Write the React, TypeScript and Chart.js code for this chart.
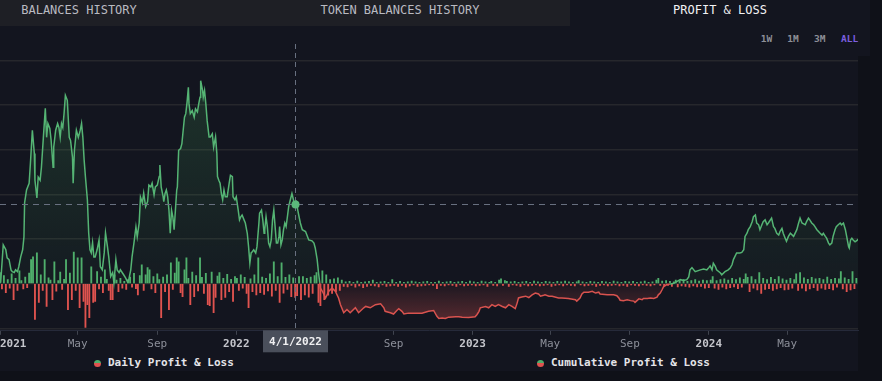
import React, { useEffect, useRef } from "react";
import { Chart, registerables } from "chart.js";

Chart.register(...registerables);

// ---------- text ----------
const tabLabels = ["BALANCES HISTORY", "TOKEN BALANCES HISTORY", "PROFIT & LOSS"];
const rangeButtons = ["1W", "1M", "3M", "ALL"];
const legendLabels = ["Daily Profit & Loss", "Cumulative Profit & Loss"];
const monthNames = ["Jan", "Feb", "Mar", "Apr", "May", "Jun", "Jul", "Aug", "Sep", "Oct", "Nov", "Dec"];

// ---------- axis ----------
const START_UTC = Date.UTC(2021, 0, 1); // day 0
const DAY_MS = 86400000;
const xTickMonths: [number, number][] = [
  [2021, 0], [2021, 4], [2021, 8], [2022, 0], [2022, 4], [2022, 8],
  [2023, 0], [2023, 4], [2023, 8], [2024, 0], [2024, 4],
];
const xMaxDay = 1325.5;
const yMin = -10.56;
const yMax = 53.72;
const yGridValues = [-10, 0, 10, 20, 30, 40, 50];
const crosshairDay = 455; // 4/1/2022

// ---------- cumulative profit & loss (day since 2021-01-01, value in k) ----------
const cumPnl2021: [number, number][] = [
  [1, 0.2], [5, 8.7], [9, 7.6], [11, 5.8], [14, 5.4], [17, 3.1], [19, 2.7], [22, 2.5], [24, 3.1], [27, 2.7],
  [29, 3.8], [32, 6.0], [35, 7.6], [37, 10.5], [38, 18.1], [41, 21.0], [45, 22.5], [47, 27.0], [50, 34.4], [53, 29.2],
  [54, 23.2], [57, 19.2], [59, 23.9], [62, 23.2], [64, 26.1], [67, 32.8], [70, 39.3], [72, 32.8], [74, 35.9], [77, 34.8],
  [79, 32.1], [82, 26.1], [83, 30.6], [86, 34.4], [89, 35.9], [91, 35.0], [93, 32.8], [95, 35.9], [97, 35.0], [99, 38.2],
  [101, 42.2], [104, 41.1], [107, 32.8], [109, 32.1], [112, 28.3], [113, 22.5], [115, 29.9], [118, 34.4], [121, 32.8], [124, 34.4],
  [126, 35.9], [128, 32.8], [130, 27.7], [132, 23.9], [135, 18.8], [137, 11.4], [139, 7.6], [141, 6.9], [143, 9.2], [145, 6.0],
  [147, 6.0], [150, 7.6], [153, 9.8], [155, 3.8], [158, 3.1], [161, 6.9], [163, 11.4], [166, 8.3], [168, 6.0], [171, 1.6],
  [174, 2.5], [176, 0.2], [179, 5.4], [181, 3.1], [184, 2.5], [186, 3.1], [191, 2.0], [194, 1.3], [197, 0.4], [199, 0.9],
  [202, 3.1], [204, 6.0], [207, 9.2], [210, 12.7], [212, 10.5], [215, 13.6], [217, 19.4], [220, 18.1], [222, 20.3], [225, 17.3],
  [228, 18.4], [230, 22.1], [233, 21.7], [235, 22.5], [238, 19.9], [240, 21.7], [243, 22.1], [246, 24.0], [247, 26.6], [249, 21.7],
  [252, 19.5], [253, 18.4], [255, 20.2], [257, 21.0], [259, 19.5], [261, 16.5], [263, 11.3], [265, 16.5], [267, 15.0], [269, 12.1],
  [271, 16.5], [273, 21.0], [274, 21.7], [276, 29.9], [279, 30.3], [281, 31.4], [283, 34.4], [285, 37.3], [287, 38.1], [289, 40.7],
  [291, 44.0], [292, 40.3], [294, 38.1], [297, 38.8], [300, 37.3], [302, 39.2], [305, 38.5], [307, 40.3], [309, 41.8], [310, 45.5],
  [313, 43.3], [314, 41.8], [316, 43.3], [318, 40.3], [320, 36.6], [323, 32.9], [325, 32.9], [328, 33.6], [330, 30.6], [333, 32.9],
  [335, 29.2], [336, 24.0], [338, 23.2], [340, 22.5], [342, 20.2], [344, 18.8], [346, 21.0], [348, 19.5], [351, 19.5], [354, 22.5],
  [356, 24.3], [359, 24.0], [360, 19.5], [363, 18.8],
];
const cumPnl2022: [number, number][] = [
  [365, 19.5], [368, 16.5], [370, 14.3], [372, 15.0], [374, 15.4], [377, 14.3], [379, 13.6], [382, 11.3], [384, 8.3], [386, 4.6],
  [388, 6.9], [390, 7.2], [392, 7.6], [395, 6.9], [397, 8.3], [400, 13.6], [401, 15.8], [404, 16.5], [406, 14.3], [408, 11.3],
  [409, 12.1], [411, 15.0], [413, 12.8], [415, 9.1], [417, 8.3], [419, 9.8], [421, 14.3], [423, 16.5], [425, 12.8], [427, 9.1],
  [429, 9.1], [431, 10.6], [432, 12.8], [434, 8.7], [436, 9.8], [438, 12.1], [440, 13.6], [442, 12.8], [444, 15.0], [446, 17.3],
  [449, 19.1], [451, 20.2], [455, 17.8], [458, 18.4], [460, 16.5], [462, 15.0], [464, 13.6], [467, 12.1], [472, 11.7], [477, 9.8],
  [482, 9.6], [485, 9.1], [487, 8.0], [490, 5.4], [492, 2.5], [494, 0.2], [495, -1.0], [498, -1.7], [503, -3.2], [508, -1.7],
  [513, -1.0], [518, -1.7], [523, -3.2], [526, -4.7], [529, -5.8], [531, -6.5], [536, -5.8], [541, -6.5], [549, -5.4], [554, -6.5],
  [562, -5.4], [565, -5.1], [572, -5.4], [580, -4.7], [588, -4.5], [593, -5.4], [595, -6.2], [603, -6.5], [608, -6.8], [613, -6.0],
  [616, -5.6], [621, -6.2], [624, -6.8], [631, -6.6], [642, -6.6], [652, -6.6], [662, -6.2], [670, -6.0], [675, -7.3], [678, -7.8],
  [683, -7.7], [688, -7.8], [693, -7.5], [704, -7.4], [709, -7.4], [714, -7.5], [724, -7.6],
];
const cumPnl2023: [number, number][] = [
  [734, -7.4], [737, -6.9], [740, -6.2], [742, -5.4], [750, -5.1], [755, -5.4], [760, -4.7], [765, -5.1], [770, -4.7], [776, -5.1],
  [781, -5.4], [786, -4.7], [791, -5.1], [796, -5.6], [799, -4.3], [801, -3.2], [806, -3.0], [812, -2.8], [817, -3.1], [822, -2.5],
  [827, -2.1], [832, -2.3], [835, -2.8], [840, -2.6], [842, -2.5], [848, -2.8], [853, -2.8], [863, -3.2], [868, -3.2], [878, -3.3],
  [889, -3.6], [891, -3.9], [896, -3.2], [899, -2.3], [902, -1.9], [909, -1.9], [915, -1.7], [920, -2.1], [925, -1.9], [927, -2.3],
  [938, -2.5], [948, -2.5], [953, -2.7], [956, -3.2], [958, -3.7], [963, -3.8], [969, -3.6], [974, -3.8], [979, -3.9], [981, -4.2],
  [984, -3.8], [987, -3.4], [992, -3.6], [994, -3.3], [1000, -3.3], [1005, -3.2], [1010, -3.3], [1015, -3.0], [1017, -2.5], [1020, -2.1],
  [1023, -1.3], [1025, -0.7], [1030, -0.2], [1035, -0.1], [1041, 0.1], [1046, 0.5], [1051, 0.9], [1056, 0.7], [1061, 0.9], [1064, 1.5],
  [1066, 3.1], [1069, 3.6], [1074, 2.7], [1082, 3.1], [1087, 3.3], [1092, 3.1],
];
const cumPnl2024: [number, number][] = [
  [1095, 3.6], [1097, 4.0], [1100, 3.1], [1102, 4.6], [1105, 3.9], [1107, 3.1], [1113, 2.4], [1115, 2.0], [1120, 2.7], [1125, 3.1],
  [1128, 3.5], [1131, 4.3], [1133, 5.4], [1138, 6.9], [1143, 6.9], [1146, 7.0], [1149, 7.6], [1151, 10.6], [1154, 11.3], [1156, 12.1],
  [1159, 12.8], [1162, 13.9], [1164, 15.0], [1167, 15.4], [1169, 13.6], [1172, 13.2], [1174, 12.1], [1177, 13.2], [1179, 13.9], [1182, 14.3],
  [1185, 13.2], [1187, 13.6], [1192, 14.7], [1195, 12.8], [1197, 12.4], [1200, 11.3], [1203, 10.9], [1205, 11.7], [1208, 12.4], [1210, 11.3],
  [1213, 10.2], [1215, 9.5], [1218, 10.6], [1221, 11.3], [1226, 10.6], [1231, 12.1], [1233, 13.2], [1236, 14.7], [1239, 13.6], [1244, 13.2],
  [1246, 13.9], [1249, 14.7], [1251, 14.3], [1254, 13.6], [1257, 13.2], [1259, 12.8], [1262, 12.1], [1267, 11.3], [1270, 10.9], [1272, 11.3],
  [1275, 10.6], [1277, 10.2], [1280, 9.1], [1282, 8.7], [1285, 9.1], [1287, 10.6], [1290, 12.1], [1292, 12.8], [1295, 13.2], [1298, 13.6],
  [1300, 13.2], [1303, 13.6], [1306, 12.1], [1308, 10.6], [1311, 8.3], [1312, 8.0], [1314, 9.8], [1316, 10.2], [1318, 9.8], [1321, 9.4],
  [1324, 9.7], [1326, 10.0],
];

// ---------- daily profit & loss (one bar per 3 days from 2021-01-01, value in k) ----------
const DAILY_STEP = 3;
const dailyPnl2021 = [
  2.5, -1.2, 1.8, -2.0, 0.9, -1.0, 2.2, -3.6, 1.2, -1.5, 2.9, 0.7, -1.2, 1.5, -0.9, 2.4, 5.4, 6.0, -8.0, 6.9,
  -4.2, 2.0, -1.5, 5.4, -5.1, 1.3, 0.8, -3.6, 4.9, -1.7, 0.7, 2.6, -1.3, 1.0, 5.4, -5.8, 2.4, -3.6, 7.1, -1.5,
  5.8, -5.4, 5.8, -4.0, -9.8, -4.7, -7.6, 3.8, -4.2, -4.0, 2.7, -1.2, 1.5, -2.0, 3.1, 1.0, -1.5, -3.6, -3.6, 2.0,
  0.8, -1.8, 1.2, -1.0, 0.5, -1.3, 0.9, 1.5, -0.8, 2.3, -1.1, -2.5, 1.8, 4.2, -1.5, 2.0, 3.6, 3.1, -1.2, 1.6,
  -2.0, 2.2, 0.9, -7.6, 1.5, -1.8, 2.0, -5.8, 4.7, -1.3, 2.4, 5.8, 4.9, -2.0, -2.9, 3.1, 5.8, 1.2, -4.7, 2.6,
  -2.9, 1.8, -1.6, 5.8, 1.4, -2.2, 2.3, -4.7, -4.9, 2.6, -6.5, -3.1, 1.7, 2.5, -3.6, 1.2, -3.1, 2.1, -1.8, 1.0,
  -4.0, 1.6,
];
const dailyPnl2022 = [
  1.2, -1.5, 2.0, -1.0, 1.4, -2.2, -5.4, 1.1, -1.8, 2.0, -2.5, 5.8, -2.0, 1.5, -2.4, 1.2, -1.6, 2.2, -2.8, 4.9,
  -1.5, 1.6, -4.2, 4.7, -2.1, 1.4, -1.3, 2.0, -2.9, 1.3, -3.1, -2.7, 1.6, -3.6, 1.6, -2.5, 1.2, -3.0, 1.5, -2.2,
  1.8, 2.5, -4.2, -4.9, 2.9, -3.6, 2.0, -2.6, 0.9, -2.2, 1.1, -1.8, 1.3, -1.5, 0.8, -0.6, 0.4, -0.7, 0.5, -0.4,
  0.3, -0.8, 0.6, -0.5, 0.3, -0.9, 0.4, -0.6, 0.5, -0.4, 0.8, -0.5, 0.3, -0.7, 0.4, -0.3, 0.5, -0.6, 0.3, -0.5,
  0.9, -0.4, 0.3, -0.6, 0.5, -0.4, 0.3, -0.8, 0.4, -0.5, 0.6, -0.3, 0.4, -0.6, 0.3, -0.5, 0.4, -0.4, 0.5, -0.3,
  0.3, -0.4, 0.3, -1.1, 0.6, -0.4, 0.3, -0.5, 0.4, -0.3, 0.5, -0.4, 0.3, -0.6, 0.4, -0.3, 0.5, -0.5, 0.3, -0.4,
  0.6, -0.3,
];
const dailyPnl2023 = [
  0.4, -0.5, 0.3, -0.4, 0.6, -0.3, 0.4, -0.6, 0.3, 0.5, -0.4, 0.3, -0.5, 0.8, 1.1, -0.4, 0.7, 0.5, -0.6, 0.4,
  -0.3, 0.5, -0.4, 0.3, -0.6, 0.4, -0.3, 0.5, -0.5, 0.3, -0.4, 0.6, -0.3, 0.4, -0.5, 0.3, -0.4, 0.5, -0.3, 0.4,
  -0.6, 0.3, -0.4, 0.5, -0.3, 0.4, -0.5, 0.6, -0.3, 0.4, -0.4, 0.3, -0.5, 0.4, 0.7, -0.3, 0.4, -0.5, 0.3, -0.4,
  0.5, -0.3, 0.4, -0.6, 0.3, -0.4, 0.5, -0.3, 0.4, -0.5, 0.3, -0.4, 0.6, -0.3, 0.4, -0.5, 0.3, -0.4, 0.5, -0.6,
  0.4, -0.3, 0.5, -0.4, 0.3, -0.5, 0.4, -0.3, 0.6, -0.4, 0.3, -0.5, 0.4, -0.3, 0.8, 1.2, -0.4, 0.6, -0.5, 0.7,
  -0.4, 0.5, -0.6, 0.4, 0.8, -0.7, 0.6, -0.5, 0.9, -0.6, 0.5, -0.8, 0.7, -0.5, 0.9, -0.7, 0.6, -0.6, 0.8, -1.0,
  0.7,
];
const dailyPnl2024 = [
  -0.9, 0.8, 1.6, -1.0, 0.7, -1.3, 0.9, -0.8, 1.1, -1.2, 0.8, -0.9, 1.2, -0.7, 0.9, -1.1, 1.3, -0.8, 1.0, 2.2,
  1.4, -1.8, 1.6, -1.0, 0.9, -1.4, 2.5, -2.2, 1.2, -1.3, 0.9, -1.1, 1.4, -1.5, 1.0, -1.2, 1.6, -0.9, 1.1, -1.4,
  0.8, -1.3, 1.2, -1.0, 0.9, 2.2, -1.5, 2.5, -1.0, 1.3, -1.6, 1.0, -1.2, 1.4, -0.9, 1.1, -1.5, 1.2, -1.0, 0.9,
  -1.3, 1.5, -1.1, 1.0, -1.4, 1.2, -0.8, 1.1, 2.7, -1.2, 1.3, -1.8, 1.0, -1.4, 2.7, -1.1, 1.2,
];

// ---------- colours ----------
const LINE_GREEN = "#55b474";
const LINE_RED = "#d9534f";
const BAR_GREEN = "#4fae6c";
const BAR_RED = "#e0534f";
const FONT = "'DejaVu Sans Mono', monospace";

const cumPoints = [...cumPnl2021, ...cumPnl2022, ...cumPnl2023, ...cumPnl2024].map(([d, v]) => ({ x: d, y: v }));
const dailyPoints = [...dailyPnl2021, ...dailyPnl2022, ...dailyPnl2023, ...dailyPnl2024].map((v, k) => ({
  x: k * DAILY_STEP,
  y: v,
}));
const crosshairValue = (cumPoints.find((p) => p.x === crosshairDay) || { y: 0 }).y;

const dayOf = (y: number, m: number) => (Date.UTC(y, m, 1) - START_UTC) / DAY_MS;
const xTickDays = [...xTickMonths.map(([y, m]) => dayOf(y, m)), xMaxDay];
const xTickLabels = [...xTickMonths.map(([y, m]) => (m === 0 ? String(y) : monthNames[m])), ""];
const xTickIsYear = [...xTickMonths.map(([, m]) => m === 0), false];

function crosshairDateLabel(day: number) {
  const d = new Date(START_UTC + day * DAY_MS);
  return `${d.getUTCMonth() + 1}/${d.getUTCDate()}/${d.getUTCFullYear()}`;
}

function fillGradient(ctx: any) {
  const chart = ctx.chart;
  const area = chart.chartArea;
  if (!area) return "rgba(0,0,0,0)";
  const zero = chart.scales.y.getPixelForValue(0);
  const f = Math.min(Math.max((zero - area.top) / (area.bottom - area.top), 0), 1);
  const g = chart.ctx.createLinearGradient(0, area.top, 0, area.bottom);
  g.addColorStop(0, "rgba(80,190,100,0.20)");
  g.addColorStop(f, "rgba(80,190,100,0.04)");
  g.addColorStop(f, "rgba(217,83,79,0.05)");
  g.addColorStop(1, "rgba(217,83,79,0.42)");
  return g;
}

const crosshairPlugin = {
  id: "crosshair",
  afterDatasetsDraw(chart: any) {
    const { ctx, chartArea, scales } = chart;
    const x = Math.round(scales.x.getPixelForValue(crosshairDay)) + 0.5;
    const y = Math.round(scales.y.getPixelForValue(crosshairValue)) + 0.5;
    ctx.save();
    ctx.strokeStyle = "#687080";
    ctx.lineWidth = 1;
    ctx.setLineDash([6, 5]);
    ctx.beginPath();
    ctx.moveTo(chartArea.left, y);
    ctx.lineTo(chartArea.right, y);
    ctx.stroke();
    ctx.setLineDash([5, 4]);
    ctx.beginPath();
    ctx.moveTo(x, chartArea.top);
    ctx.lineTo(x, chartArea.bottom);
    ctx.stroke();
    ctx.setLineDash([]);
    ctx.fillStyle = "#5bb97b";
    ctx.beginPath();
    ctx.arc(x, y, 4, 0, Math.PI * 2);
    ctx.fill();
    ctx.restore();
  },
  afterDraw(chart: any) {
    const { ctx, chartArea, scales } = chart;
    const x = Math.round(scales.x.getPixelForValue(crosshairDay)) + 0.5;
    const text = crosshairDateLabel(crosshairDay);
    ctx.save();
    ctx.font = `bold 11px ${FONT}`;
    const w = ctx.measureText(text).width + 12;
    const h = 22;
    const top = chartArea.bottom - 0.5;
    ctx.fillStyle = "#4a4f5b";
    ctx.fillRect(Math.round(x - w / 2), top, Math.round(w), h);
    ctx.fillStyle = "#f0f0f2";
    ctx.textAlign = "center";
    ctx.textBaseline = "middle";
    ctx.fillText(text, x, top + h / 2 + 0.5);
    ctx.restore();
  },
};

export default function App() {
  const canvasRef = useRef<HTMLCanvasElement>(null);

  useEffect(() => {
    if (!canvasRef.current) return;
    const chart = new Chart(canvasRef.current, {
      type: "line",
      data: {
        datasets: [
          {
            type: "line",
            label: legendLabels[1],
            data: cumPoints,
            borderColor: LINE_GREEN,
            borderWidth: 1.5,
            pointRadius: 0,
            tension: 0,
            fill: { target: { value: 0 } },
            backgroundColor: fillGradient,
            segment: {
              borderColor: (c: any) => ((c.p0.parsed.y + c.p1.parsed.y) / 2 < 0 ? LINE_RED : LINE_GREEN),
            },
          } as any,
          {
            type: "bar",
            label: legendLabels[0],
            data: dailyPoints,
            backgroundColor: (c: any) => ((c.raw && c.raw.y) >= 0 ? BAR_GREEN : BAR_RED),
            barThickness: 1.2,
            borderWidth: 0,
          } as any,
        ],
      },
      options: {
        animation: false,
        responsive: false,
        maintainAspectRatio: false,
        events: [],
        layout: { padding: { top: 18, left: 0, right: 0, bottom: 0 } },
        plugins: { legend: { display: false }, tooltip: { enabled: false } },
        scales: {
          x: {
            type: "linear",
            min: 0,
            max: xMaxDay,
            offset: false,
            afterBuildTicks: (s: any) => {
              s.ticks = xTickDays.map((v) => ({ value: v }));
            },
            ticks: {
              autoSkip: false,
              maxRotation: 0,
              minRotation: 0,
              align: "inner",
              padding: 3,
              callback: (_v: any, i: number) => xTickLabels[i],
              color: (c: any) => (xTickIsYear[c.index] ? "#c4c5cb" : "#8c8f99"),
              font: (c: any) => ({ family: FONT, size: 11, weight: xTickIsYear[c.index] ? "bold" : "normal" }),
            },
            grid: {
              offset: false,
              drawOnChartArea: false,
              drawTicks: true,
              tickLength: 4,
              color: (c: any) => (c.index === xTickDays.length - 1 ? "rgba(0,0,0,0)" : "#40444f"),
            },
            border: { display: true, color: "#262a3a", width: 1 },
          },
          y: {
            type: "linear",
            position: "right",
            min: yMin,
            max: yMax,
            afterBuildTicks: (s: any) => {
              s.ticks = yGridValues.map((v) => ({ value: v }));
            },
            ticks: { display: false },
            grid: { color: "#26272c", lineWidth: 1.5, drawTicks: false },
            border: { display: false },
          },
        },
      } as any,
      plugins: [crosshairPlugin],
    });
    return () => chart.destroy();
  }, []);

  const tabCenters = [79, 400, 720];
  const buttonLefts = [760.7, 787.3, 814, 841];

  return (
    <div
      style={{
        position: "fixed",
        left: 0,
        top: 0,
        width: 882,
        height: 381,
        background: "#0f1118",
        overflow: "hidden",
        fontFamily: FONT,
      }}
    >
      <div style={{ position: "absolute", left: 0, top: 0, width: 858, height: 371, background: "#13151f" }} />
      <div style={{ position: "absolute", left: 0, top: 0, width: 870, height: 56, background: "#13151f" }} />
      <div style={{ position: "absolute", left: 0, top: 0, width: 570, height: 26, background: "#1e1f25" }} />
      {tabLabels.map((t, i) => (
        <div
          key={t}
          style={{
            position: "absolute",
            left: tabCenters[i] - 150,
            width: 300,
            top: 3,
            lineHeight: "14px",
            fontSize: 12,
            textAlign: "center",
            color: i === 2 ? "#f2f2f4" : "#b9bac1",
            whiteSpace: "pre",
          }}
        >
          {t}
        </div>
      ))}
      {rangeButtons.map((b, i) => (
        <div
          key={b}
          style={{
            position: "absolute",
            left: buttonLefts[i],
            top: 33,
            lineHeight: "12px",
            fontSize: 9.5,
            fontWeight: "bold",
            color: b === "ALL" ? "#7c5fe0" : "#8d8f97",
          }}
        >
          {b}
        </div>
      ))}
      <canvas
        ref={canvasRef}
        width={864}
        height={328}
        style={{ position: "absolute", left: -3, top: 26, width: 864, height: 328 }}
      />
      {legendLabels.map((l, i) => (
        <React.Fragment key={l}>
          <div
            style={{
              position: "absolute",
              left: i === 0 ? 93.8 : 536.5,
              top: 359.5,
              width: 7,
              height: 7,
              borderRadius: "50%",
              background: `linear-gradient(${BAR_GREEN} 50%, ${BAR_RED} 50%)`,
            }}
          />
          <div
            style={{
              position: "absolute",
              left: i === 0 ? 108 : 551,
              top: 356,
              lineHeight: "14px",
              fontSize: 11,
              fontWeight: "bold",
              color: "#e4e4e8",
              whiteSpace: "pre",
            }}
          >
            {l}
          </div>
        </React.Fragment>
      ))}
    </div>
  );
}
